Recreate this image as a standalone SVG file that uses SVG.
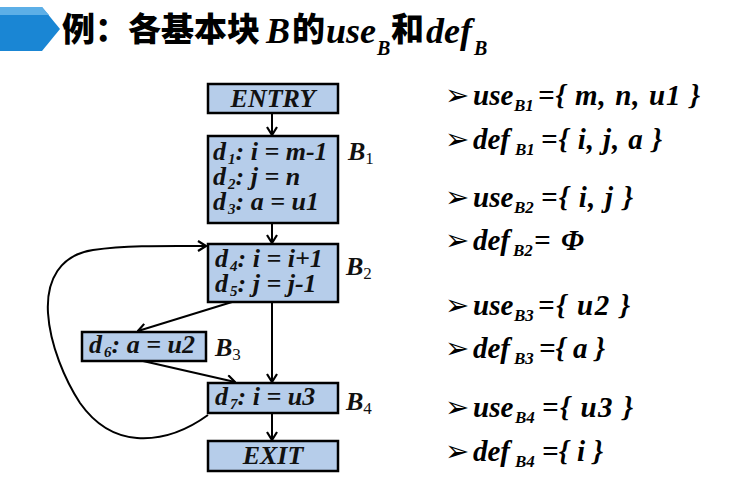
<svg xmlns="http://www.w3.org/2000/svg" width="740" height="483" viewBox="0 0 740 483">
<style>
.box{fill:#b6cdea;stroke:#000;stroke-width:2.5}
.bt{font-family:"Liberation Serif","Times New Roman",serif;font-weight:bold;font-style:italic;font-size:26px;fill:#111}
.sub{font-size:15px}
.lab{font-family:"Liberation Serif","Times New Roman",serif;font-weight:bold;font-style:italic;font-size:26px;fill:#111}
.labs{font-style:normal;font-weight:normal;font-size:17px}
.rt{font-family:"Liberation Serif","Times New Roman",serif;font-weight:bold;font-style:italic;font-size:29px;fill:#000}
.rs{font-family:"Liberation Serif","Times New Roman",serif;font-weight:bold;font-style:italic;font-size:17px;fill:#000}
.bul{font-family:"DejaVu Sans",sans-serif;font-size:29px;fill:#000}
.cjk{font-family:"Noto Sans CJK SC",sans-serif;font-weight:900;font-size:33px;fill:#000}
.tl{font-family:"Liberation Serif","Times New Roman",serif;font-weight:bold;font-style:italic;font-size:36px;fill:#000}
.tls{font-family:"Liberation Serif","Times New Roman",serif;font-weight:bold;font-style:italic;font-size:20px;fill:#000}
.edge{fill:none;stroke:#000;stroke-width:2}
</style>
<defs>
<marker id="ah" viewBox="0 0 10 12" refX="9" refY="6" markerWidth="10" markerHeight="12" markerUnits="userSpaceOnUse" orient="auto">
<path d="M1,1 L9,6 L1,11" fill="none" stroke="#000" stroke-width="2.2"/>
</marker>
</defs>
<g id="header">
<polygon points="0,7 42,7 60,29 42,51 0,51" fill="#1a86d4"/>
<polygon points="0,7 42,7 49,15 0,15" fill="#5cafe7"/>
<text class="cjk" x="62" y="41">例：各基本块</text>
<text class="tl" x="266" y="43">B</text>
<text class="cjk" x="292" y="41">的</text>
<text class="tl" x="326" y="43">use</text>
<text class="tls" x="377" y="55">B</text>
<text class="cjk" x="391" y="41">和</text>
<text class="tl" x="426" y="43">def</text>
<text class="tls" x="474" y="55">B</text>
</g>
<g id="connectors">
<line class="edge" x1="272" y1="113" x2="272" y2="135" marker-end="url(#ah)"/>
<line class="edge" x1="272" y1="223" x2="272" y2="243" marker-end="url(#ah)"/>
<line class="edge" x1="272" y1="302" x2="272" y2="382" marker-end="url(#ah)"/>
<line class="edge" x1="232" y1="302" x2="138" y2="331" marker-end="url(#ah)"/>
<line class="edge" x1="143" y1="361" x2="235" y2="382" marker-end="url(#ah)"/>
<line class="edge" x1="272" y1="413" x2="272" y2="440" marker-end="url(#ah)"/>
<path class="edge" d="M208,415 C190,428 165,440 137,438 C110,436 92,420 80,403 C65,380 50,345 48,313 C46,280 60,255 93,250 C130,245 170,246 206,246" marker-end="url(#ah)"/>
</g>
<g id="entry">
<rect class="box" x="208" y="84" width="130" height="29"/>
<text class="bt" x="273" y="107" text-anchor="middle">ENTRY</text>
</g>
<g id="B1">
<rect class="box" x="208" y="136" width="130" height="87"/>
<text class="bt" x="213" y="160">d<tspan class="sub" dx="2" dy="4">1</tspan><tspan dy="-4">: i = m-1</tspan></text>
<text class="bt" x="213" y="185">d<tspan class="sub" dx="2" dy="4">2</tspan><tspan dy="-4">: j = n</tspan></text>
<text class="bt" x="213" y="210">d<tspan class="sub" dx="2" dy="4">3</tspan><tspan dy="-4">: a = u1</tspan></text>
<text class="lab" x="348" y="160">B<tspan class="labs" dy="4">1</tspan></text>
</g>
<g id="B2">
<rect class="box" x="208" y="244" width="130" height="58"/>
<text class="bt" x="215" y="267">d<tspan class="sub" dx="2" dy="4">4</tspan><tspan dy="-4">: i = i+1</tspan></text>
<text class="bt" x="215" y="292">d<tspan class="sub" dx="2" dy="4">5</tspan><tspan dy="-4">: j = j-1</tspan></text>
<text class="lab" x="346" y="275">B<tspan class="labs" dy="4">2</tspan></text>
</g>
<g id="B3">
<rect class="box" x="82" y="332" width="124" height="29"/>
<text class="bt" x="89" y="353">d<tspan class="sub" dx="2" dy="4">6</tspan><tspan dy="-4">: a = u2</tspan></text>
<text class="lab" x="215" y="356">B<tspan class="labs" dy="4">3</tspan></text>
</g>
<g id="B4">
<rect class="box" x="208" y="383" width="130" height="30"/>
<text class="bt" x="215" y="405">d<tspan class="sub" dx="2" dy="4">7</tspan><tspan dy="-4">: i = u3</tspan></text>
<text class="lab" x="346" y="410">B<tspan class="labs" dy="4">4</tspan></text>
</g>
<g id="exit">
<rect class="box" x="208" y="441" width="130" height="30"/>
<text class="bt" x="273" y="464" text-anchor="middle">EXIT</text>
</g>
<g id="sets">
<text class="bul" x="445" y="105">➢</text>
<text class="rt" x="473" y="105">use</text><text class="rs" x="514" y="111">B1</text>
<text class="rt" x="538" y="105" textLength="162" lengthAdjust="spacing">={ m, n, u1 }</text>

<text class="bul" x="445" y="149">➢</text>
<text class="rt" x="473" y="149">def</text><text class="rs" x="515" y="155">B1</text>
<text class="rt" x="541" y="149" textLength="121" lengthAdjust="spacing">={ i, j, a }</text>

<text class="bul" x="445" y="207">➢</text>
<text class="rt" x="473" y="207">use</text><text class="rs" x="514" y="213">B2</text>
<text class="rt" x="541" y="207" textLength="92" lengthAdjust="spacing">={ i, j }</text>

<text class="bul" x="445" y="250">➢</text>
<text class="rt" x="473" y="250">def</text><text class="rs" x="513" y="256">B2</text>
<text class="rt" x="534" y="250" textLength="50" lengthAdjust="spacing">= Φ</text>

<text class="bul" x="445" y="315">➢</text>
<text class="rt" x="473" y="315">use</text><text class="rs" x="514" y="321">B3</text>
<text class="rt" x="538" y="315" textLength="92" lengthAdjust="spacing">={ u2 }</text>

<text class="bul" x="445" y="358">➢</text>
<text class="rt" x="473" y="358">def</text><text class="rs" x="514" y="364">B3</text>
<text class="rt" x="539" y="358" textLength="66" lengthAdjust="spacing">={ a }</text>

<text class="bul" x="445" y="417">➢</text>
<text class="rt" x="473" y="417">use</text><text class="rs" x="515" y="423">B4</text>
<text class="rt" x="542" y="417" textLength="91" lengthAdjust="spacing">={ u3 }</text>

<text class="bul" x="445" y="461">➢</text>
<text class="rt" x="473" y="461">def</text><text class="rs" x="515" y="467">B4</text>
<text class="rt" x="542" y="461" textLength="61" lengthAdjust="spacing">={ i }</text>
</g>
</svg>
